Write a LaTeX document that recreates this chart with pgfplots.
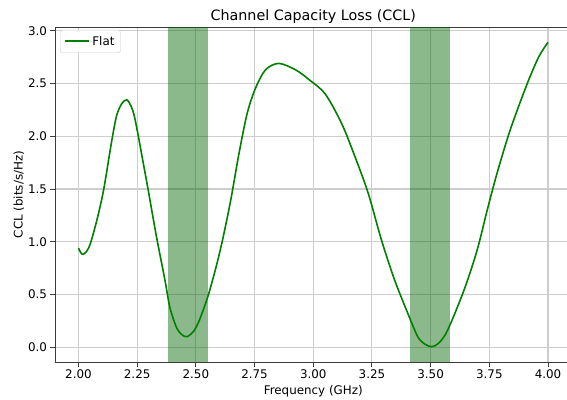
\documentclass[border=0pt]{standalone}
\usepackage{pgfplots}
\pgfplotsset{compat=1.18}
\usepackage{fontspec}
\setmainfont{DejaVu Sans}
\definecolor{mplgreen}{RGB}{0,128,0}
\definecolor{bandgreen}{RGB}{0,100,0}
\definecolor{gridgray}{RGB}{205,205,205}
\definecolor{spine}{RGB}{60,60,60}
\newcommand{\lbl}{\fontsize{11.9bp}{14bp}\selectfont}
\newcommand{\ttl}{\fontsize{14.3bp}{17bp}\selectfont}
\begin{document}
\begin{tikzpicture}
\begin{axis}[
  name=ax,
  scale only axis,
  width=516.5bp, height=335bp,
  xmin=1.9, xmax=4.1, ymin=-0.14, ymax=3.035,
  xtick={2,2.25,2.5,2.75,3,3.25,3.5,3.75,4},
  ytick={0,0.5,1,1.5,2,2.5,3},
  xtick pos=bottom, ytick pos=left,
  tick align=outside,
  major tick length=4.5bp,
  tick style={spine, line width=0.9bp},
  axis line style={spine, line width=0.9bp},
  grid=major,
  grid style={gridgray, line width=1.1bp},
  /pgf/number format/assume math mode=true,
  xticklabel style={font=\lbl, /pgf/number format/.cd, fixed, fixed zerofill, precision=2},
  yticklabel style={font=\lbl, /pgf/number format/.cd, fixed, fixed zerofill, precision=1},
  scaled ticks=false,
  xlabel={Frequency (GHz)},
  ylabel={CCL (bits/s/Hz)},
  xlabel style={font=\lbl, at={(0.5,0)}, anchor=base, yshift=-32bp, inner sep=0pt},
  ylabel style={font=\lbl},
  ylabel shift=-3bp,
  title={Channel Capacity Loss (CCL)},
  every axis title shift=0pt,
  title style={font=\ttl, at={(0.5,1)}, anchor=base, yshift=6.5bp, inner sep=0pt},
  legend style={at={(0,1)}, anchor=north west, xshift=5bp, yshift=-3bp,
    draw=black!20, rounded corners=2.5bp, fill=white, font=\lbl,
    inner xsep=4bp, inner ysep=4bp,
    /tikz/every even column/.append style={column sep=3bp}},
  legend cell align=left,
  legend image code/.code={\draw[mplgreen, line width=2.2bp] (0bp,0.5bp) -- (24bp,0.5bp);},
]
\addplot[draw=none, fill=bandgreen, fill opacity=0.45, forget plot]
  coordinates {(2.383,-0.14) (2.553,-0.14) (2.553,3.035) (2.383,3.035)} -- cycle;
\addplot[draw=none, fill=bandgreen, fill opacity=0.45, forget plot]
  coordinates {(3.413,-0.14) (3.581,-0.14) (3.581,3.035) (3.413,3.035)} -- cycle;
\addplot[mplgreen, line width=1.6bp, smooth, tension=0.5] coordinates {
(2.000,0.94)
(2.010,0.895)
(2.020,0.88)
(2.035,0.91)
(2.051,0.985)
(2.079,1.21)
(2.107,1.49)
(2.142,1.96)
(2.163,2.20)
(2.185,2.31)
(2.206,2.345)
(2.225,2.28)
(2.238,2.19)
(2.255,2.00)
(2.269,1.83)
(2.283,1.66)
(2.297,1.49)
(2.332,1.05)
(2.368,0.64)
(2.389,0.38)
(2.417,0.19)
(2.440,0.12)
(2.462,0.10)
(2.490,0.15)
(2.515,0.256)
(2.551,0.48)
(2.586,0.76)
(2.614,1.02)
(2.649,1.40)
(2.684,1.84)
(2.719,2.22)
(2.755,2.46)
(2.797,2.63)
(2.853,2.69)
(2.924,2.63)
(2.980,2.54)
(3.051,2.40)
(3.121,2.12)
(3.177,1.81)
(3.234,1.46)
(3.290,1.02)
(3.346,0.64)
(3.403,0.32)
(3.445,0.10)
(3.475,0.03)
(3.505,0.005)
(3.535,0.04)
(3.572,0.16)
(3.642,0.54)
(3.698,0.92)
(3.741,1.30)
(3.783,1.65)
(3.839,2.06)
(3.910,2.49)
(3.960,2.75)
(4.000,2.89)
};
\addlegendentry{Flat}
\end{axis}
\pgfresetboundingbox
\path ([shift={(-55bp,-38bp)}]ax.south west) rectangle ([shift={(-4.5bp,27bp)}]ax.north east);
\end{tikzpicture}
\end{document}
